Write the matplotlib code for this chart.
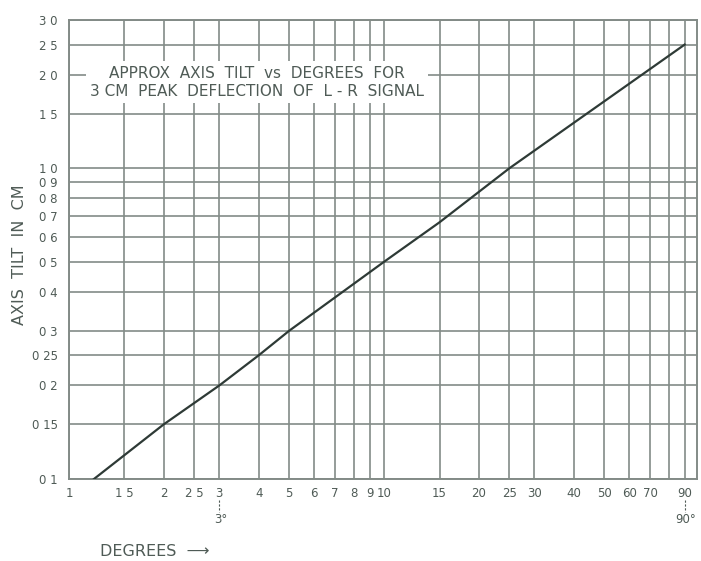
import matplotlib
matplotlib.use("Agg")
import matplotlib.pyplot as plt
from matplotlib.ticker import FixedLocator, FixedFormatter, NullLocator

# ---- data ----
degrees = [1.2, 2, 3, 4, 5, 10, 15, 25, 90]
tilt_cm = [0.10, 0.15, 0.20, 0.25, 0.30, 0.50, 0.67, 1.0, 2.5]

x_ticks = [1, 1.5, 2, 2.5, 3, 4, 5, 6, 7, 8, 9, 10, 15, 20, 25, 30, 40, 50, 60, 70, 80, 90]
x_labels = ["1", "1 5", "2", "2 5", "3", "4", "5", "6", "7", "8", "9", "10",
            "15", "20", "25", "30", "40", "50", "60", "70", "", "90"]
y_ticks = [0.1, 0.15, 0.2, 0.25, 0.3, 0.4, 0.5, 0.6, 0.7, 0.8, 0.9, 1.0, 1.5, 2.0, 2.5, 3.0]
y_labels = ["0 1", "0 15", "0 2", "0 25", "0 3", "0 4", "0 5", "0 6", "0 7", "0 8", "0 9",
            "1 0", "1 5", "2 0", "2 5", "3 0"]

title_lines = "APPROX  AXIS  TILT  vs  DEGREES  FOR\n3 CM  PEAK  DEFLECTION  OF  L - R  SIGNAL"

grid_c = "#838b87"
text_c = "#4f5b56"
line_c = "#2e3a36"

fig = plt.figure(figsize=(7.01, 5.61), dpi=100)
ax = fig.add_axes([69/701, 1-479/561, (697-69)/701, (479-20)/561])
ax.set_xscale("log")
ax.set_yscale("log")
ax.set_xlim(1, 98.5)
ax.set_ylim(0.1, 3.0)

ax.xaxis.set_major_locator(FixedLocator(x_ticks))
ax.xaxis.set_major_formatter(FixedFormatter(x_labels))
ax.xaxis.set_minor_locator(NullLocator())
ax.yaxis.set_major_locator(FixedLocator(y_ticks))
ax.yaxis.set_major_formatter(FixedFormatter(y_labels))
ax.yaxis.set_minor_locator(NullLocator())

ax.grid(True, which="major", color=grid_c, linewidth=1.2)
ax.set_axisbelow(True)
for s in ax.spines.values():
    s.set_color(grid_c)
    s.set_linewidth(1.4)
ax.tick_params(axis="both", length=0, colors=text_c, labelsize=8.5, pad=6)
ax.tick_params(axis="y", pad=8)

ax.plot(degrees, tilt_cm, color=line_c, linewidth=1.6, zorder=3)

ax.text(257/701, 1-82/561, title_lines, transform=fig.transFigure, ha="center", va="center",
        fontsize=11, color=text_c, linespacing=1.25, zorder=4,
        bbox=dict(facecolor="white", edgecolor="none", pad=3))

# degree markers below axis
for xv, lab in [(3, "3°"), (90, "90°")]:
    ax.plot([xv, xv], [0.0856, 0.0783], transform=ax.transData, clip_on=False,
            color=text_c, linewidth=0.8, linestyle=(0, (2, 1.5)))
    ax.annotate(lab, xy=(xv, 0.1), xycoords="data", xytext=(1, -29), textcoords="offset points",
                ha="center", va="center", fontsize=8.5, color=text_c, annotation_clip=False)

fig.text(155/701, 1-552/561, "DEGREES  ⟶", ha="center", va="center", fontsize=11.5, color=text_c)
fig.text(20/701, 1-255/561, "AXIS  TILT  IN  CM", rotation=90, ha="center", va="center",
         fontsize=11.5, color=text_c)

fig.savefig("out.png", dpi=100, facecolor="white")
